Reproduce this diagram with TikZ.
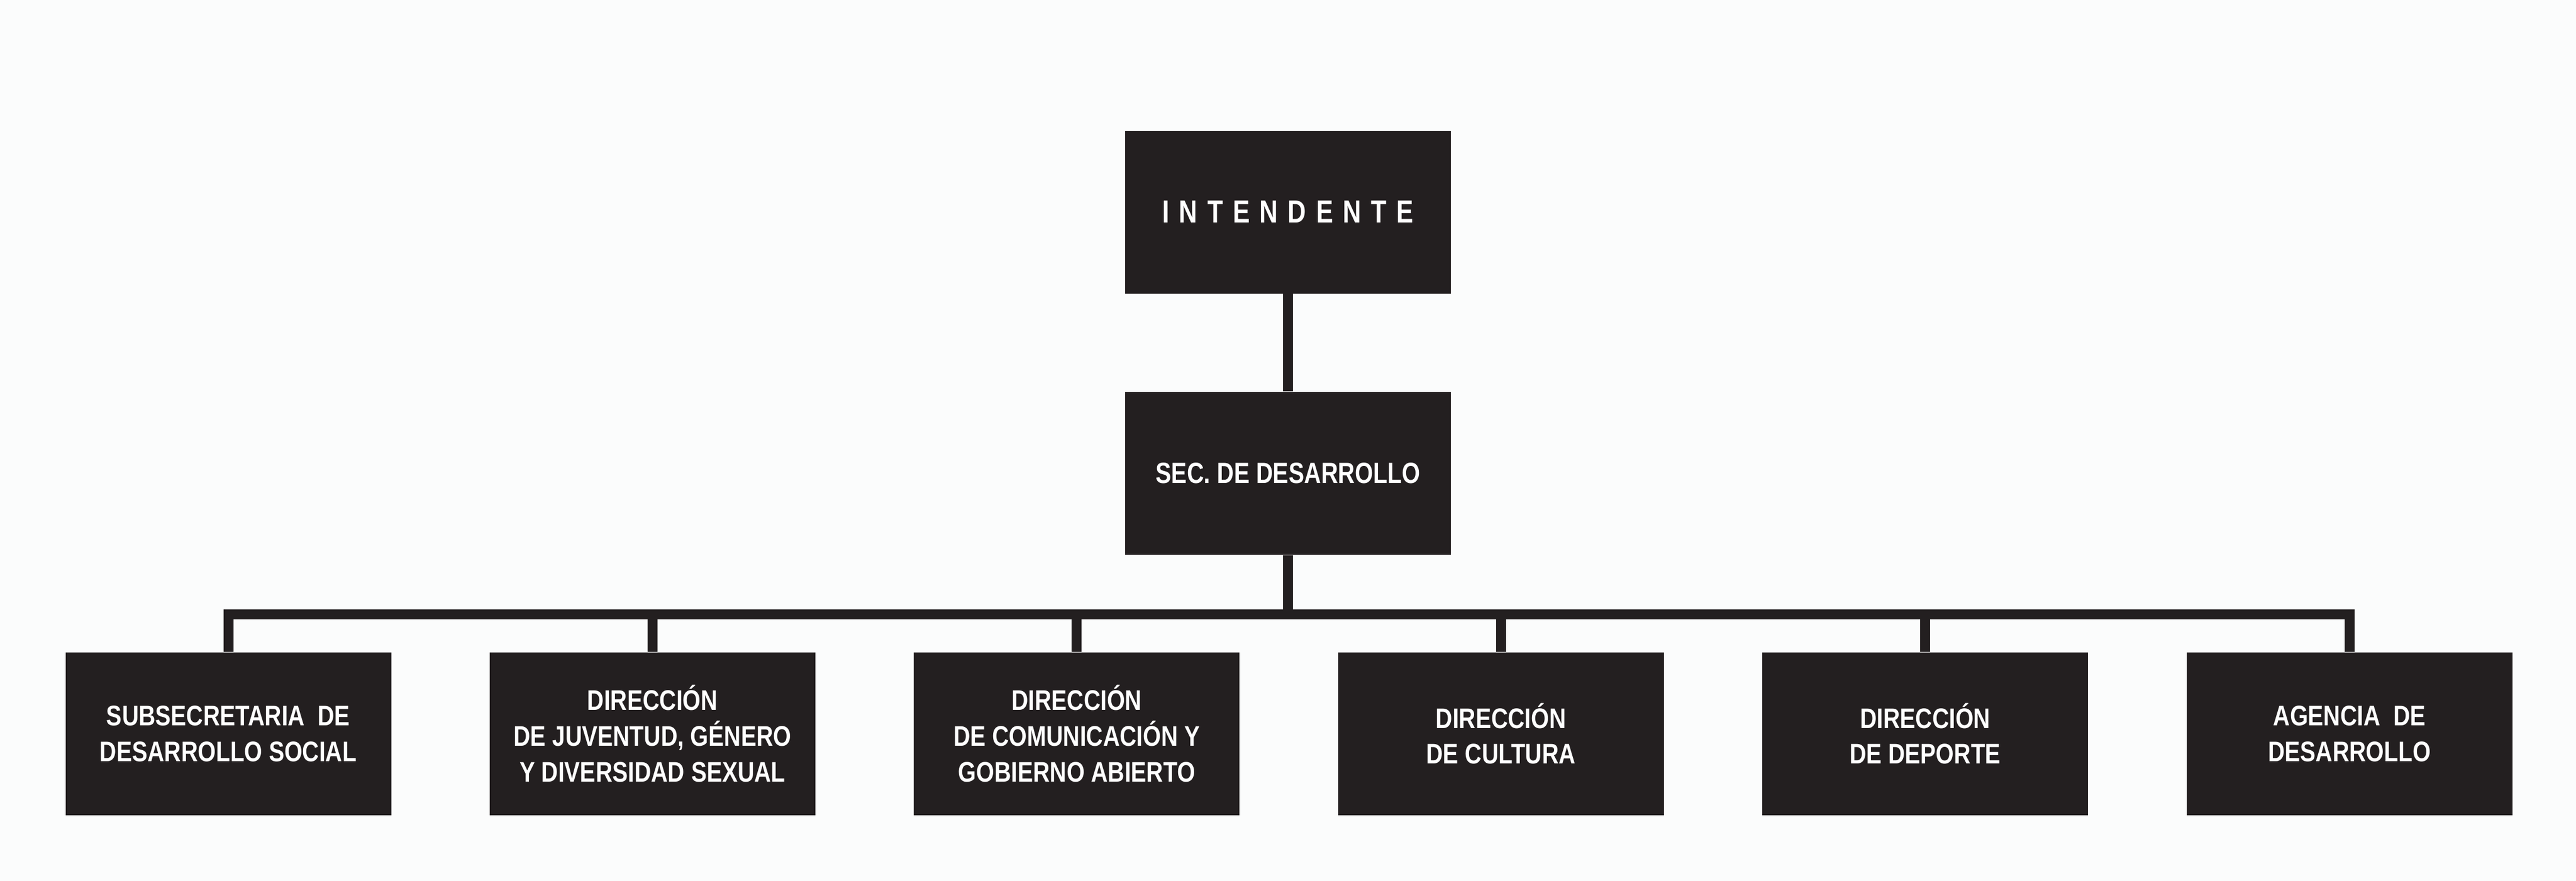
\documentclass[tikz,border=0pt]{standalone}
\usepackage{fontspec}
\setmainfont{Liberation Sans}
\newfontfamily\orgfont[FakeStretch=0.82]{Liberation Sans}
\newfontfamily\headfont[FakeStretch=0.8]{Liberation Sans}
\newfontfamily\spacedfont[FakeStretch=0.8,LetterSpace=31]{Liberation Sans}
\usepackage{xcolor}
\usetikzlibrary{positioning}
\definecolor{boxfill}{HTML}{231F20}
\definecolor{paper}{HTML}{FBFCFC}

\begin{document}
\begin{tikzpicture}[node distance=1.77cm,
  unit/.style={draw=none,fill=boxfill,text=white,minimum width=5.9cm,minimum height=2.95cm,inner sep=0pt,align=center,font=\orgfont\bfseries\fontsize{14.6}{18.4}\selectfont},
  link/.style={draw=boxfill,line width=0.18cm,line join=miter}]

%page
\fill[paper] (0,0) rectangle (46.66,-15.96);
\useasboundingbox (0,0) rectangle (46.66,-15.96);

%top of the chart
\node[unit,font=\spacedfont\bfseries\fontsize{16.4}{19}\selectfont] (Int) at (23.33,-3.84) {INTENDENTE};
\node[unit,font=\headfont\bfseries\fontsize{15.1}{18}\selectfont,below=of Int] (Sec) {SEC. DE DESARROLLO};

%bottom row, left to right
\node[unit] (Sub) at (4.135,-13.29) {SUBSECRETARIA~ DE\\DESARROLLO SOCIAL};
\node[unit,right=of Sub] (Juv) {DIRECCIÓN\\DE JUVENTUD, GÉNERO\\Y DIVERSIDAD SEXUAL};
\node[unit,right=of Juv] (Com) {DIRECCIÓN\\DE COMUNICACIÓN Y\\GOBIERNO ABIERTO};
\node[unit,right=of Com] (Cul) {DIRECCIÓN\\DE CULTURA};
\node[unit,right=of Cul] (Dep) {DIRECCIÓN\\DE DEPORTE};
\node[unit,right=of Dep] (Age) {AGENCIA~ DE\\DESARROLLO};

%connectors
\coordinate (bus) at ([yshift=0.68cm]Sub.north);
\draw[link] (Int) -- (Sec);
\draw[link] (Sub.north) |- (bus -| Age.north) -- (Age.north);
\draw[link] (Sec) -- (Sec.south |- bus);
\foreach \b in {Juv,Com,Cul,Dep}
  \draw[link] (\b.north) -- (\b.north |- bus);

\end{tikzpicture}
\end{document}
